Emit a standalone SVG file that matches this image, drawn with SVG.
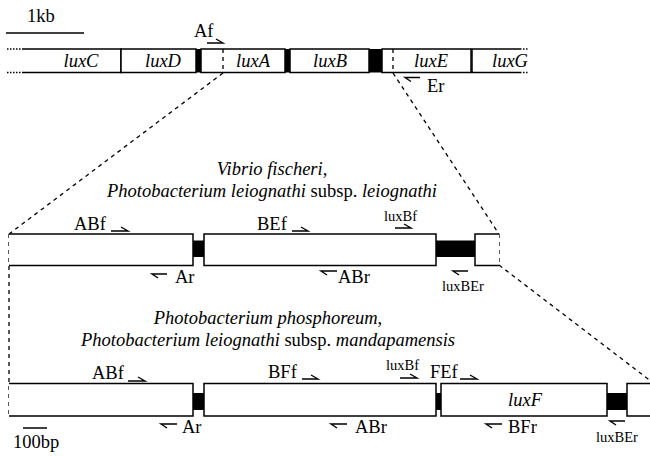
<svg xmlns="http://www.w3.org/2000/svg" width="650" height="456" viewBox="0 0 650 456">
<style>
.box{fill:#fff;stroke:#000;stroke-width:1.5}
.blk{fill:#000;stroke:none}
.dash{fill:none;stroke:#000;stroke-width:1.3;stroke-dasharray:4,4}
.dot{fill:none;stroke:#000;stroke-width:1.5;stroke-dasharray:1.5,1.5}
.ln{fill:none;stroke:#000;stroke-width:1.5}
.pr{fill:none;stroke:#000;stroke-width:1.4}
text{font-family:"Liberation Serif","Times New Roman",serif;font-size:18.5px;fill:#000}
.it{font-style:italic}
.sm{font-size:14.5px}
.mid{text-anchor:middle}
</style>
<rect width="650" height="456" fill="#fff"/>

<g id="scale-1kb"><line class="ln" x1="6" y1="33" x2="84" y2="33"/><text x="27" y="22">1kb</text></g>

<g id="top-row">
  <line class="dot" x1="7" y1="49" x2="23" y2="49"/><line class="dot" x1="7" y1="72.5" x2="23" y2="72.5"/>
  <line class="dot" x1="520" y1="49" x2="529" y2="49"/><line class="dot" x1="520" y1="72.5" x2="529" y2="72.5"/>
  <g id="luxC"><path class="box" d="M23 49H121V72.5H23"/><text class="it mid" x="81" y="67">luxC</text></g>
  <g id="luxD"><rect class="box" x="121" y="49" width="75" height="23.5"/><text class="it mid" x="163" y="67">luxD</text></g>
  <rect class="blk" x="196" y="49" width="5" height="23.5"/>
  <g id="luxA"><rect class="box" x="201" y="49" width="84" height="23.5"/><text class="it mid" x="253" y="67">luxA</text></g>
  <rect class="blk" x="285" y="49" width="5" height="23.5"/>
  <g id="luxB"><rect class="box" x="290" y="49" width="79" height="23.5"/><text class="it mid" x="330" y="67">luxB</text></g>
  <rect class="blk" x="369" y="49" width="13" height="23.5"/>
  <g id="luxE"><rect class="box" x="382" y="49" width="89" height="23.5"/><text class="it mid" x="431" y="67">luxE</text></g>
  <g id="luxG"><path class="box" d="M520 49H472V72.5H520"/><text class="it mid" x="510" y="67">luxG</text></g>
  <g id="primer-Af"><text x="194" y="37">Af</text><path class="pr" d="M207 43H223L216 39"/></g>
  <g id="primer-Er"><path class="pr" d="M420 77.5H405L411 81.5"/><text x="427" y="92">Er</text></g>
</g>

<g id="connectors">
  <line class="dash" x1="223" y1="49" x2="223" y2="72.5"/>
  <line class="dash" x1="393" y1="49" x2="393" y2="72.5"/>
  <line class="dash" x1="223" y1="73" x2="9" y2="234"/>
  <line class="dash" x1="393" y1="73" x2="499" y2="234"/>
  <line class="dash" x1="499" y1="265" x2="652" y2="382"/>
  <line class="dash" x1="9" y1="234" x2="9" y2="416"/>
  <line class="dash" x1="499" y1="234" x2="499" y2="265"/>
</g>

<g id="title-vibrio">
  <text class="it mid" x="272" y="175">Vibrio fischeri,</text>
  <text class="mid" x="272" y="197"><tspan class="it">Photobacterium leiognathi</tspan> subsp. <tspan class="it">leiognathi</tspan></text>
</g>

<g id="middle-row">
  <g id="m-box1"><path class="box" d="M9 234H193V265.5H9"/></g>
  <rect class="blk" x="193" y="240.5" width="11" height="16.5"/>
  <g id="m-box2"><rect class="box" x="204" y="234" width="232" height="31.5"/></g>
  <rect class="blk" x="436" y="240.5" width="39" height="16.5"/>
  <g id="m-box3"><path class="box" d="M499 234H475V265.5H499"/></g>
  <g id="m-ABf"><text x="74" y="230">ABf</text><path class="pr" d="M111 231H128L121 227"/></g>
  <g id="m-Ar"><path class="pr" d="M167 274H152L158 278"/><text x="175" y="283">Ar</text></g>
  <g id="m-BEf"><text x="257" y="230">BEf</text><path class="pr" d="M292 231H308L301 227"/></g>
  <g id="m-ABr"><path class="pr" d="M337 271H321L327 275"/><text x="338" y="283">ABr</text></g>
  <g id="m-luxBf"><text class="sm" x="384" y="221">luxBf</text><path class="pr" d="M395 228H411L404 224"/></g>
  <g id="m-luxBEr"><path class="pr" d="M468 271H453L459 275"/><text class="sm" x="442" y="291">luxBEr</text></g>
</g>

<g id="title-photobacterium">
  <text class="it mid" x="268" y="324">Photobacterium phosphoreum,</text>
  <text class="mid" x="268" y="346"><tspan class="it">Photobacterium leiognathi</tspan> subsp. <tspan class="it">mandapamensis</tspan></text>
</g>

<g id="bottom-row">
  <g id="b-box1"><path class="box" d="M9 383.5H193V416H9"/></g>
  <rect class="blk" x="193" y="393" width="11" height="17"/>
  <g id="b-box2"><rect class="box" x="204" y="383.5" width="232" height="32.5"/></g>
  <rect class="blk" x="436" y="393" width="5" height="17"/>
  <g id="luxF"><rect class="box" x="441" y="383.5" width="166" height="32.5"/><text class="it mid" x="525" y="406">luxF</text></g>
  <rect class="blk" x="607" y="393" width="20" height="17"/>
  <g id="b-box4"><path class="box" d="M651 383.5H627V416H651"/></g>
  <g id="b-ABf"><text x="92" y="379">ABf</text><path class="pr" d="M128 381H145L138 377"/></g>
  <g id="b-Ar"><path class="pr" d="M177 424H161L167 428"/><text x="182" y="433">Ar</text></g>
  <g id="b-BFf"><text x="268" y="378">BFf</text><path class="pr" d="M302 379H318L311 375"/></g>
  <g id="b-luxBf"><text class="sm" x="386" y="370">luxBf</text><path class="pr" d="M400 378H417L410 374"/></g>
  <g id="b-FEf"><text x="430" y="378">FEf</text><path class="pr" d="M460 379H477L470 375"/></g>
  <g id="b-ABr"><path class="pr" d="M347 424H331L337 428"/><text x="355" y="433">ABr</text></g>
  <g id="b-BFr"><path class="pr" d="M502 424H486L492 428"/><text x="508" y="433">BFr</text></g>
  <g id="b-luxBEr"><path class="pr" d="M625 421H610L616 425"/><text class="sm" x="596" y="442">luxBEr</text></g>
</g>

<g id="scale-100bp"><line class="ln" x1="23" y1="428" x2="47" y2="428"/><text x="13" y="448">100bp</text></g>
</svg>
